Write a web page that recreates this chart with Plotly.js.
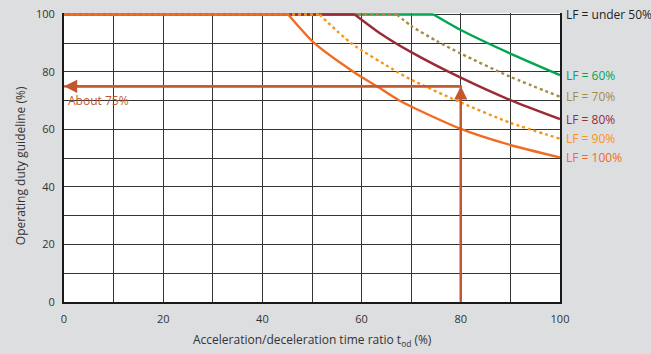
<!DOCTYPE html>
<html>
<head>
<meta charset="utf-8">
<script src="https://cdn.plot.ly/plotly-3.0.1.min.js"></script>
<style>html,body{margin:0;padding:0;background:#dddee0;}#chart{width:651px;height:354px;}</style>
</head>
<body>
<div id="chart"></div>
<script>
// ---- data ----
const lfNames = ['LF = under 50%', 'LF = 60%', 'LF = 70%', 'LF = 80%', 'LF = 90%', 'LF = 100%'];

// x where each curve leaves 100 %, followed by the falling part
const lf50_x = [0, 100];
const lf50_y = [100, 100];

const lf60_x = [74.5, 80, 90, 100];
const lf60_y = [100, 94.6, 86.4, 78.9];

const lf70_x = [67.1, 70, 75.1, 80, 90, 100];
const lf70_y = [100, 96, 90.8, 86.4, 78.3, 71.4];

const lf80_x = [58.6, 63.7, 70, 80, 90, 100];
const lf80_y = [100, 93.5, 86.9, 78, 70.2, 63.6];

const lf90_x = [51.5, 57.9, 67.2, 70, 80, 90, 100];
const lf90_y = [100, 90, 80, 77.3, 69.4, 62.3, 56.8];

const lf100_x = [45.2, 50.5, 58.4, 63.1, 67.7, 80, 90, 100];
const lf100_y = [100, 90, 80, 75, 70, 60.2, 54.6, 50.3];

// worked example
const exampleX = 80;
const exampleY = 75;
const exampleLabel = 'About 75%';

const xTicks = [0, 20, 40, 60, 80, 100];
const yTicks = [0, 20, 40, 60, 80, 100];

// ---- styles ----
const colors = ['#231f20', '#00a651', '#a48b47', '#982b35', '#f7941d', '#f26b21'];
const dashes = ['solid', 'solid', 'dot', 'solid', 'dot', 'solid'];
const arrowColor = '#c2572f';
const FONT = 'Open Sans, sans-serif';

const series = [
  [lf50_x, lf50_y],
  [lf60_x, lf60_y],
  [lf70_x, lf70_y],
  [lf80_x, lf80_y],
  [lf90_x, lf90_y],
  [lf100_x, lf100_y]
];

const traces = [];
series.forEach(([xs, ys], i) => {
  const lw = 2.4;
  // flat part at 100 %, from the left edge to the break point
  traces.push({
    x: [xTicks[0], xs[0]], y: [ys[0], ys[0]], mode: 'lines', type: 'scatter',
    line: {color: colors[i], width: lw, dash: dashes[i]}, hoverinfo: 'skip', showlegend: false
  });
  if (i > 0) {
    traces.push({
      x: xs, y: ys, mode: 'lines', type: 'scatter', name: lfNames[i],
      line: {color: colors[i], width: lw, dash: dashes[i], shape: 'spline', smoothing: 0.7},
      showlegend: false
    });
  }
});

// example guide lines (arrow heads via annotations)
traces.push({
  x: [exampleX, exampleX, xTicks[0]], y: [yTicks[0], exampleY, exampleY],
  mode: 'lines', type: 'scatter', line: {color: arrowColor, width: 2.2},
  hoverinfo: 'skip', showlegend: false
});

const annotations = [];
series.forEach(([xs, ys], i) => {
  annotations.push({
    x: xs[xs.length - 1], y: ys[ys.length - 1], xref: 'x', yref: 'y',
    text: lfNames[i], showarrow: false, xanchor: 'left', yanchor: 'middle', xshift: 4,
    font: {family: FONT, size: 12, color: i === 0 ? '#231f20' : colors[i]}
  });
});
annotations.push({
  x: xTicks[0], y: exampleY, ax: exampleX, ay: exampleY, xref: 'x', yref: 'y', axref: 'x', ayref: 'y',
  text: '', showarrow: true, arrowhead: 2, arrowsize: 1.2, arrowwidth: 2.2, arrowcolor: arrowColor, standoff: 0
});
annotations.push({
  x: exampleX, y: exampleY, ax: exampleX, ay: yTicks[0], xref: 'x', yref: 'y', axref: 'x', ayref: 'y',
  text: '', showarrow: true, arrowhead: 2, arrowsize: 1.2, arrowwidth: 2.2, arrowcolor: arrowColor, standoff: 0
});
annotations.push({
  x: xTicks[0], y: exampleY, xref: 'x', yref: 'y', text: exampleLabel, showarrow: false,
  xanchor: 'left', yanchor: 'middle', xshift: 2, yshift: -14,
  font: {family: FONT, size: 12, color: arrowColor}
});
// axis titles
annotations.push({
  xref: 'paper', yref: 'paper', x: 0, y: 0.47, xshift: -44, xanchor: 'center', yanchor: 'middle',
  text: 'Operating duty guideline (%)', textangle: -90, showarrow: false,
  font: {family: FONT, size: 12, color: '#333'}
});
annotations.push({
  xref: 'paper', yref: 'paper', x: 0.5, y: -0.131, xanchor: 'center', yanchor: 'middle',
  text: 'Acceleration/deceleration time ratio t<sub>od</sub> (%)', showarrow: false,
  font: {family: FONT, size: 12, color: '#333'}
});

const gridCol = '#353535';
const layout = {
  width: 651, height: 354,
  paper_bgcolor: '#dddee0', plot_bgcolor: '#ffffff',
  margin: {l: 64, r: 91, t: 13, b: 52},
  showlegend: false,
  xaxis: {
    range: [0, 100], tickvals: xTicks, ticktext: xTicks.map(String),
    showgrid: true, gridcolor: gridCol, gridwidth: 1,
    minor: {dtick: 10, showgrid: true, gridcolor: gridCol, gridwidth: 1},
    showline: true, linecolor: '#1a1a1a', linewidth: 2, mirror: false,
    zeroline: false, ticks: '', ticklabelstandoff: 6,
    tickfont: {family: FONT, size: 11, color: '#333'}, fixedrange: true
  },
  yaxis: {
    range: [0, 100.5], tickvals: yTicks, ticktext: yTicks.map(String),
    showgrid: true, gridcolor: gridCol, gridwidth: 1,
    minor: {dtick: 10, showgrid: true, gridcolor: gridCol, gridwidth: 1},
    showline: true, linecolor: '#1a1a1a', linewidth: 2, mirror: true,
    zeroline: false, ticks: '', ticklabelstandoff: 5,
    tickfont: {family: FONT, size: 11, color: '#333'}, fixedrange: true
  },
  annotations: annotations
};

Plotly.newPlot('chart', traces, layout, {staticPlot: true, displayModeBar: false});
</script>
</body>
</html>
